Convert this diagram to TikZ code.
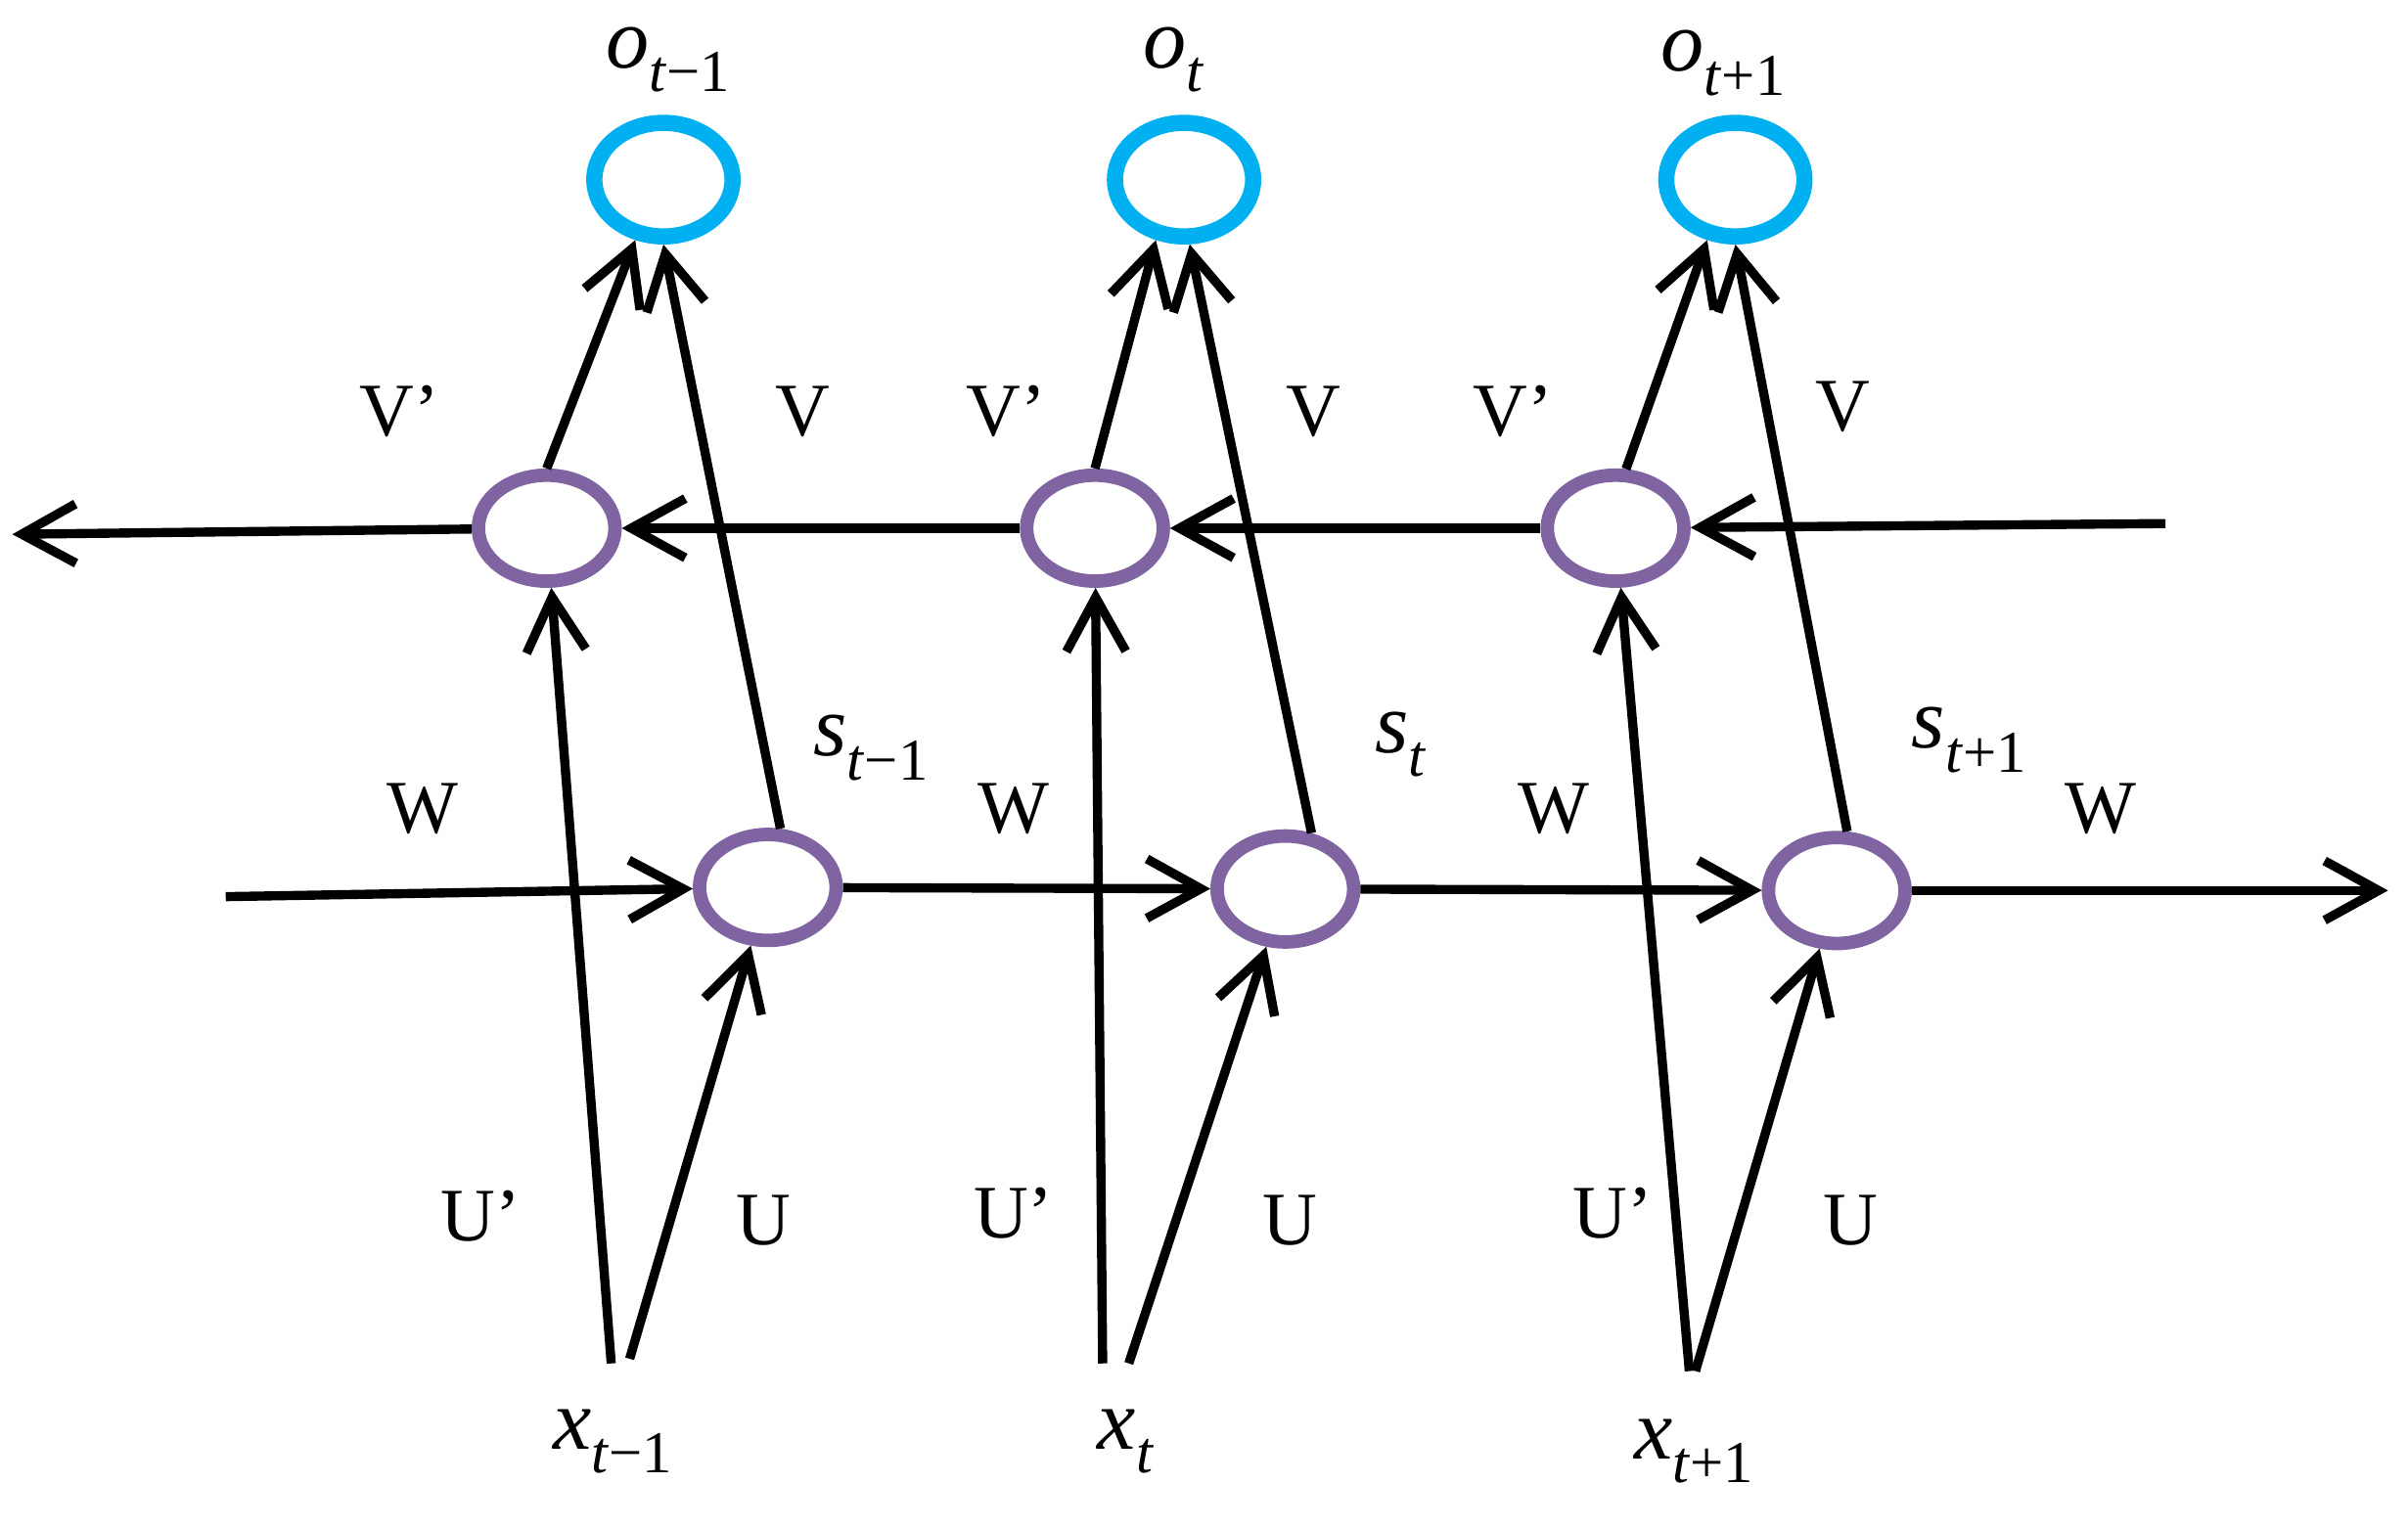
\documentclass[tikz,border=0pt]{standalone}
\usepackage{fontspec}
\setmainfont{Liberation Serif}
\usepackage{tikz}
\usetikzlibrary{arrows.meta,positioning,shapes.geometric}

\definecolor{outcyan}{RGB}{0,176,240}
\definecolor{hidpurple}{RGB}{128,100,162}

% italic letter with subscript t, t-1, t+1
\newcommand{\seqvar}[2]{\textit{#1}\raisebox{-0.6ex}{\fontsize{11}{11}\selectfont\textit{t}#2}}

\begin{document}
\begin{tikzpicture}[
    outunit/.style={ellipse, draw=outcyan, line width=3pt, minimum width=0.90cm, minimum height=0.74cm, inner sep=0pt},
    hidunit/.style={ellipse, draw=hidpurple, line width=2.5pt, minimum width=0.89cm, minimum height=0.69cm, inner sep=0pt},
    conn/.style={line width=1.7pt, -{Straight Barb[length=10pt,width=11pt]}},
    wlabel/.style={font=\fontsize{14}{14}\selectfont},
    seqlabel/.style={font=\fontsize{16}{16}\selectfont, inner sep=1pt}
]
    \useasboundingbox (0,0) rectangle (15.68,9.95);

    % Output layer
    \node[outunit] (o1) at (4.32,8.78) {};
    \node[outunit] (o2) at (7.71,8.78) {};
    \node[outunit] (o3) at (11.30,8.78) {};
    \node[seqlabel] (lo1) at (4.35,9.56) {\seqvar{o}{−1}};
    \node[seqlabel] (lo2) at (7.64,9.56) {\seqvar{o}{}};
    \node[seqlabel] (lo3) at (11.22,9.54) {\seqvar{o}{+1}};

    % Backward hidden layer
    \node[hidunit] (b1) at (3.56,6.51) {};
    \node[hidunit] (b2) at (7.13,6.51) {};
    \node[hidunit] (b3) at (10.52,6.51) {};

    % Forward hidden layer
    \node[hidunit] (f1) at (5.00,4.17) {};
    \node[hidunit] (f2) at (8.37,4.16) {};
    \node[hidunit] (f3) at (11.96,4.15) {};
    \node[seqlabel] (ls1) at (5.67,5.08) {\seqvar{s}{−1}};
    \node[seqlabel] (ls2) at (9.12,5.10) {\seqvar{s}{}};
    \node[seqlabel] (ls3) at (12.82,5.13) {\seqvar{s}{+1}};

    % Inputs
    \node[seqlabel] (x1) at (3.99,0.56) {\seqvar{x}{−1}};
    \node[seqlabel] (x2) at (7.33,0.56) {\seqvar{x}{}};
    \node[seqlabel] (x3) at (11.03,0.50) {\seqvar{x}{+1}};
    \coordinate (ua1) at (3.98,1.07);
    \coordinate (ub1) at (4.10,1.10);
    \coordinate (ua2) at (7.18,1.07);
    \coordinate (ub2) at (7.35,1.07);
    \coordinate (ua3) at (11.00,1.02);
    \coordinate (ub3) at (11.04,1.02);

    % Open ends of the two chains
    \coordinate (bin) at (14.10,6.54);
    \coordinate (bout) at (0.08,6.47);
    \coordinate (fin) at (1.47,4.11);
    \coordinate (fout) at (15.55,4.15);

    % Backward chain (right to left)
    \draw[conn] (bin) -- (b3);
    \draw[conn] (b3) -- (b2);
    \draw[conn] (b2) -- (b1);
    \draw[conn] (b1) -- (bout);

    % Forward chain (left to right)
    \draw[conn] (fin) -- (f1);
    \draw[conn] (f1) -- (f2);
    \draw[conn] (f2) -- (f3);
    \draw[conn] (f3) -- (fout);

    % Inputs to both hidden layers
    \draw[conn] (ua1) -- (b1);
    \draw[conn] (ub1) -- (f1);
    \draw[conn] (ua2) -- (b2);
    \draw[conn] (ub2) -- (f2);
    \draw[conn] (ua3) -- (b3);
    \draw[conn] (ub3) -- (f3);

    % Hidden layers to outputs
    \draw[conn] (b1.north) -- (o1.245);
    \draw[conn] (f1.78) -- (o1.south);
    \draw[conn] (b2.north) -- (o2.245);
    \draw[conn] (f2.65) -- (o2.275);
    \draw[conn] (b3.80) -- (o3.245);
    \draw[conn] (f3.80) -- (o3.south);

    % Weight labels
    \node[wlabel] (v1a) at (2.60,7.27) {V’};
    \node[wlabel] (v1b) at (5.23,7.27) {V};
    \node[wlabel] (v2a) at (6.55,7.27) {V’};
    \node[wlabel] (v2b) at (8.55,7.27) {V};
    \node[wlabel] (v3a) at (9.85,7.27) {V’};
    \node[wlabel] (v3b) at (12.00,7.30) {V};
    \node[wlabel] (w0) at (2.75,4.68) {W};
    \node[wlabel] (w1) at (6.60,4.68) {W};
    \node[wlabel] (w2) at (10.12,4.68) {W};
    \node[wlabel] (w3) at (13.68,4.68) {W};
    \node[wlabel] (u1a) at (3.13,2.03) {U’};
    \node[wlabel] (u1b) at (4.97,2.00) {U};
    \node[wlabel] (u2a) at (6.60,2.05) {U’};
    \node[wlabel] (u2b) at (8.40,2.00) {U};
    \node[wlabel] (u3a) at (10.50,2.05) {U’};
    \node[wlabel] (u3b) at (12.05,2.00) {U};
\end{tikzpicture}
\end{document}
